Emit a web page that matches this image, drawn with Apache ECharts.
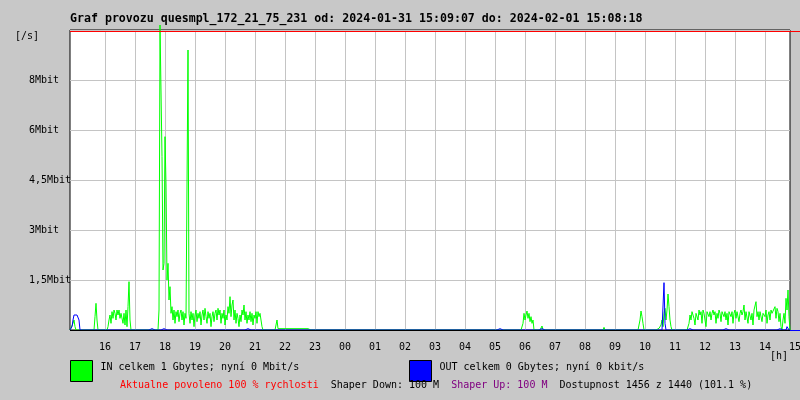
<!DOCTYPE html>
<html><head><meta charset="utf-8">
<script src="https://cdn.jsdelivr.net/npm/echarts@6/dist/echarts.min.js"></script>
<style>html,body{margin:0;padding:0;background:#c8c8c8}#c{width:800px;height:400px}</style>
</head><body><div id="c"></div>
<script>
const titleText = 'Graf provozu quesmpl_172_21_75_231 od: 2024-01-31 15:09:07 do: 2024-02-01 15:08:18';
const inName = 'IN celkem 1 Gbytes; nyní 0 Mbit/s';
const outName = 'OUT celkem 0 Gbytes; nyní 0 kbit/s';
const footerText = '{r|Aktualne povoleno 100 % rychlosti}  {k|Shaper Down: 100 M}  {p|Shaper Up: 100 M}  {k|Dostupnost 1456 z 1440 (101.1 %)}';

// samples every 2 minutes, first sample at 14:50 (hours on the axis)
const startHour = 14 + 50 / 60;
const stepMinutes = 2;
const spanHours = 24;
const extraHours = 20 / 60;

// IN traffic, Mbit/s, one row per hour (30 samples)
const inValues = [
  0,0,0,0.2,0.3,0.1,0,0,0,0, 0,0,0,0,0,0,0,0,0,0, 0,0,0,0,0,0.4,0.8,0.3,0,0,
  0,0,0,0,0,0,0,0,0.1,0.3, 0.45,0.2,0.55,0.35,0.6,0.5,0.3,0.6,0.45,0.6, 0.35,0.5,0.55,0.2,0.5,0.15,0.6,0.1,0.7,1.45,
  0.3,0,0,0,0,0,0,0,0,0, 0,0,0,0,0,0,0,0,0,0, 0,0,0,0,0,0,0,0,0,0.6,
  9.15,9.15,5.2,1.8,2.0,5.8,4.35,1.5,2.0,0.9, 1.3,0.5,0.7,0.3,0.6,0.2,0.55,0.4,0.6,0.25, 0.5,0.6,0.3,0.55,0.15,0.5,0.35,4.35,8.4,0.5,
  0.2,0.55,0.3,0.5,0.1,0.45,0.6,0.25,0.5,0.35, 0.55,0.15,0.45,0.6,0.3,0.65,0.4,0.2,0.55,0.35, 0.5,0.1,0.4,0.55,0.25,0.5,0.6,0.3,0.65,0.45,
  0.6,0.2,0.5,0.35,0.6,0.15,0.45,0.3,0.7,0.5, 1.0,0.4,0.75,0.9,0.3,0.6,0.2,0.5,0.35,0.1, 0.45,0.25,0.6,0.45,0.75,0.3,0.55,0.2,0.45,0.3,
  0.55,0.25,0.5,0.15,0.45,0.35,0.55,0.2,0.55,0.4, 0.5,0.3,0.1,0,0,0,0,0,0,0, 0,0,0,0,0,0,0.15,0.3,0.04,0.04,
  0.04,0.04,0.04,0.04,0.04,0.04,0.04,0.04,0.04,0.04, 0.04,0.04,0.04,0.04,0.04,0.04,0.04,0.04,0.04,0.04, 0.04,0.04,0.04,0.04,0.04,0.04,0.04,0.04,0.04,0,
  0,0,0,0,0,0,0,0,0,0, 0,0,0,0,0,0,0,0,0,0, 0,0,0,0,0,0,0,0,0,0,
  0,0,0,0,0,0,0,0,0,0, 0,0,0,0,0,0,0,0,0,0, 0,0,0,0,0,0,0,0,0,0,
  0,0,0,0,0,0,0,0,0,0, 0,0,0,0,0,0,0,0,0,0, 0,0,0,0,0,0,0,0,0,0,
  0,0,0,0,0,0,0,0,0,0, 0,0,0,0,0,0,0,0,0,0, 0,0,0,0,0,0,0,0,0,0,
  0,0,0,0,0,0,0,0,0,0, 0,0,0,0,0,0,0,0,0,0, 0,0,0,0,0,0,0,0,0,0,
  0,0,0,0,0,0,0,0,0,0, 0,0,0,0,0,0,0,0,0,0, 0,0,0,0,0,0,0,0,0,0,
  0,0,0,0,0,0,0,0,0,0, 0,0,0,0,0,0,0,0,0,0, 0,0,0,0,0,0,0,0,0,0,
  0,0,0,0.2,0.5,0.3,0.45,0.57,0.35,0.5, 0.25,0.4,0.2,0.3,0,0,0,0,0,0, 0,0,0.12,0,0,0,0,0,0,0,
  0,0,0,0,0,0,0,0,0,0, 0,0,0,0,0,0,0,0,0,0, 0,0,0,0,0,0,0,0,0,0,
  0,0,0,0,0,0,0,0,0,0, 0,0,0,0,0,0,0,0,0,0, 0,0,0,0,0.08,0,0,0,0,0,
  0,0,0,0,0,0,0,0,0,0, 0,0,0,0,0,0,0,0,0,0, 0,0,0,0,0,0,0,0,0,0,
  0.3,0.57,0.4,0.2,0,0,0,0,0,0, 0,0,0,0,0,0,0,0,0,0.05, 0.05,0.15,0.3,0.1,0.5,0.65,0.3,0.6,1.08,0.7,
  0.3,0.1,0,0,0,0,0,0,0,0, 0,0,0,0,0,0,0,0,0,0.2, 0.45,0.3,0.55,0.6,0.35,0.15,0.5,0.55,0.3,0.6,
  0.45,0.55,0.2,0.6,0.5,0.3,0.1,0.55,0.6,0.4, 0.55,0.3,0.5,0.6,0.45,0.55,0.2,0.5,0.35,0.6, 0.5,0.25,0.55,0.6,0.4,0.55,0.3,0.5,0.15,0.55,
  0.6,0.4,0.55,0.2,0.5,0.6,0.35,0.55,0.6,0.25, 0.5,0.6,0.45,0.55,0.75,0.3,0.55,0.5,0.2,0.55, 0.6,0.3,0.5,0.15,0.6,0.55,0.85,0.4,0.55,0.3,
  0.55,0.6,0.25,0.5,0.55,0.4,0.6,0.2,0.45,0.55, 0.3,0.6,0.5,0.45,0.55,0.7,0.35,0.65,0.55,0.25, 0.5,0.1,0,0.3,0.5,0.2,0.95,0.6,1.2,0.4,
  0
];

// OUT traffic, Mbit/s, one row per hour (30 samples)
const outValues = [
  0,0,0.1,0.3,0.45,0.45,0.42,0.45,0.48,0.3, 0,0,0,0,0,0,0,0,0,0, 0,0,0,0,0,0,0,0,0,0,
  0,0,0,0,0,0,0,0,0,0, 0,0,0,0,0,0,0,0,0,0, 0,0,0,0,0,0,0,0,0,0,
  0,0,0,0,0,0,0,0,0,0, 0,0,0,0,0,0,0,0,0,0, 0,0,0.04,0,0,0,0,0,0,0,
  0,0,0,0,0.04,0,0,0,0.04,0, 0,0,0.04,0,0.04,0,0,0,0,0, 0,0,0,0,0,0,0,0,0,0,
  0,0,0,0,0,0,0,0,0.04,0, 0,0,0,0,0,0,0,0,0,0, 0,0,0,0,0,0,0,0,0,0,
  0,0,0.04,0,0,0,0,0,0,0, 0,0,0,0,0,0,0,0,0,0, 0,0,0,0,0.04,0,0,0,0.04,0,
  0,0,0.04,0,0,0,0,0,0,0, 0,0,0,0,0,0,0,0,0,0, 0,0,0,0,0,0,0,0,0,0,
  0,0,0,0,0,0,0,0,0,0, 0,0,0,0,0,0,0,0,0,0, 0,0,0,0,0,0,0,0,0,0,
  0,0,0,0,0,0,0,0,0,0, 0,0,0,0,0,0,0,0,0,0, 0,0,0,0,0,0,0,0,0,0,
  0,0,0,0,0,0,0,0,0,0, 0,0,0,0,0,0,0,0,0,0, 0,0,0,0,0,0,0,0,0,0,
  0,0,0,0,0,0,0,0,0,0, 0,0,0,0,0,0,0,0,0,0, 0,0,0,0,0,0,0,0,0,0,
  0,0,0,0,0,0,0,0,0,0, 0,0,0,0,0,0,0,0,0,0, 0,0,0,0,0,0,0,0,0,0,
  0,0,0,0,0,0,0,0,0,0, 0,0,0,0,0,0,0,0,0,0, 0,0,0,0,0,0,0,0,0,0,
  0,0,0,0,0,0,0,0,0,0, 0,0,0,0,0,0,0,0,0,0, 0,0,0,0,0,0,0,0,0,0,
  0,0,0,0,0,0,0,0,0,0, 0.04,0,0,0,0,0,0,0,0,0, 0,0,0,0,0,0,0,0,0,0,
  0,0,0,0,0,0,0,0,0,0, 0,0,0,0,0,0,0,0,0,0, 0,0,0.04,0,0,0,0,0,0,0,
  0,0,0,0,0,0,0,0,0,0, 0,0,0,0,0,0,0,0,0,0, 0,0,0,0,0,0,0,0,0,0,
  0,0,0,0,0,0,0,0,0,0, 0,0,0,0,0,0,0,0,0,0, 0,0,0,0,0,0,0,0,0,0,
  0,0,0,0,0,0,0,0,0,0, 0,0,0,0,0,0,0,0,0,0, 0.04,0,0,0,0,0,0,0,0,0,
  0,0,0,0,0,0,0,0,0,0, 0,0,0,0,0,0,0,0,0,0, 0,0,0,0,1.42,0.2,0,0,0,0,
  0,0,0,0,0,0,0,0,0,0, 0,0,0,0,0,0,0,0,0,0, 0.04,0,0,0,0,0,0,0,0,0,
  0,0,0,0,0,0,0,0,0,0, 0,0,0,0,0,0,0,0,0,0, 0,0,0,0,0,0,0.04,0,0,0,
  0,0,0,0,0,0,0,0,0,0, 0,0,0,0,0,0,0,0,0,0, 0,0,0,0,0,0,0,0,0,0,
  0.04,0,0,0,0,0,0,0,0,0, 0,0,0,0,0,0,0,0,0,0, 0.04,0,0,0,0,0,0,0.1,0.1,0,
  0
];

const xTickValues = [16,17,18,19,20,21,22,23,24,25,26,27,28,29,30,31,32,33,34,35,36,37,38];
const xTickLabels = ['16','17','18','19','20','21','22','23','00','01','02','03','04','05','06','07','08','09','10','11','12','13','14'];
const xEndTickValues = [39];
const xEndTickLabels = ['15'];
const yTickValues = [1.5, 3, 4.5, 6, 7.5];
const yTickLabels = ['1,5Mbit', '3Mbit', '4,5Mbit', '6Mbit', '8Mbit'];
const limitLineValue = 8.955;
const baseLineValue = -0.015;

const FONT = 'DejaVu Sans Mono';
const toPairs = vals => vals.map((v, i) => [startHour + i * stepMinutes / 60, v]);
const endHour = startHour + spanHours;
const extEnd = endHour + extraHours;

const chart = echarts.init(document.getElementById('c'), null, {renderer: 'canvas'});
const txt = {fontFamily: FONT, fontSize: 10, color: '#000', fontWeight: 'normal'};
const legendText = {fontFamily: FONT, fontSize: 10, color: '#000',
  rich: {a: {fontFamily: FONT, fontSize: 10, color: '#000', padding: [0, 0, 7, 3]}}};
const frameLine = (name, pts, color) => ({
  name: name, type: 'line', xAxisIndex: 1, yAxisIndex: 1, data: pts, z: 10, silent: true,
  symbol: 'none', clip: false, lineStyle: {color: color, width: 1}, itemStyle: {color: color}
});

chart.setOption({
  animation: false,
  backgroundColor: '#c8c8c8',
  title: [
    {text: titleText, left: 70, top: 13, padding: 0,
     textStyle: {fontFamily: FONT, fontSize: 11.6, fontWeight: 'bold', color: '#000'}},
    {text: '[/s]', left: 15, top: 31, padding: 0, textStyle: txt},
    {text: '[h]', left: 770, top: 351, padding: 0, textStyle: txt},
    {text: footerText, left: 120, top: 380, padding: 0,
     textStyle: Object.assign({}, txt, {rich: {
       r: {fontFamily: FONT, fontSize: 10, color: '#ff0000'},
       k: {fontFamily: FONT, fontSize: 10, color: '#000'},
       p: {fontFamily: FONT, fontSize: 10, color: '#800080'}
     }})}
  ],
  legend: [
    {data: [inName], left: 70, top: 360, padding: 0, icon: 'rect', itemWidth: 22, itemHeight: 21,
     selectedMode: false, itemStyle: {borderColor: '#000', borderWidth: 1},
     formatter: n => '{a|' + n + '}', textStyle: legendText},
    {data: [outName], left: 409, top: 360, padding: 0, icon: 'rect', itemWidth: 22, itemHeight: 21,
     selectedMode: false, itemStyle: {borderColor: '#000', borderWidth: 1},
     formatter: n => '{a|' + n + '}', textStyle: legendText}
  ],
  grid: [
    {left: 70, right: 10, top: 30, bottom: 70, show: true, backgroundColor: '#ffffff',
     borderColor: '#000', borderWidth: 1, outerBoundsMode: 'none', containLabel: false},
    {left: 70, right: 0, top: 30, bottom: 70, outerBoundsMode: 'none', containLabel: false}
  ],
  xAxis: [
    {type: 'value', gridIndex: 0, min: startHour, max: endHour,
     axisLine: {show: false}, axisTick: {show: false, customValues: xTickValues},
     splitLine: {show: true, lineStyle: {color: '#c4c4c4', width: 1}},
     axisLabel: Object.assign({}, txt, {customValues: xTickValues, margin: 12,
       formatter: v => { const k = xTickValues.indexOf(v); return k < 0 ? '' : xTickLabels[k]; }})},
    {type: 'value', gridIndex: 1, min: startHour, max: extEnd,
     axisLine: {show: false}, axisTick: {show: false, customValues: xEndTickValues},
     splitLine: {show: false},
     axisLabel: Object.assign({}, txt, {customValues: xEndTickValues, margin: 12,
       formatter: v => { const k = xEndTickValues.indexOf(v); return k < 0 ? '' : xEndTickLabels[k]; }})}
  ],
  yAxis: [
    {type: 'value', gridIndex: 0, min: 0, max: 9, interval: 1.5,
     axisLine: {show: false}, axisTick: {show: false},
     splitLine: {show: true, lineStyle: {color: '#c4c4c4', width: 1}},
     axisLabel: Object.assign({}, txt, {align: 'left', margin: 41, padding: [4, 0, 0, 0],
       formatter: v => { const k = yTickValues.indexOf(v); return k < 0 ? '' : yTickLabels[k]; }})},
    {type: 'value', gridIndex: 1, min: 0, max: 9, show: false}
  ],
  series: [
    {name: inName, type: 'line', xAxisIndex: 0, yAxisIndex: 0, data: toPairs(inValues),
     symbol: 'none', clip: false, z: 2,
     lineStyle: {color: '#00ff00', width: 1}, itemStyle: {color: '#00ff00'}},
    {name: outName, type: 'line', xAxisIndex: 0, yAxisIndex: 0, data: toPairs(outValues),
     symbol: 'none', clip: false, z: 3,
     lineStyle: {color: '#0000ff', width: 1}, itemStyle: {color: '#0000ff'}},
    frameLine('limit', [[startHour, limitLineValue], [extEnd, limitLineValue]], '#ff0000'),
    frameLine('base', [[startHour, baseLineValue], [endHour, baseLineValue]], '#000000'),
    frameLine('baseExt', [[endHour, baseLineValue], [extEnd, baseLineValue]], '#0000ff')
  ]
});
</script>
</body></html>
